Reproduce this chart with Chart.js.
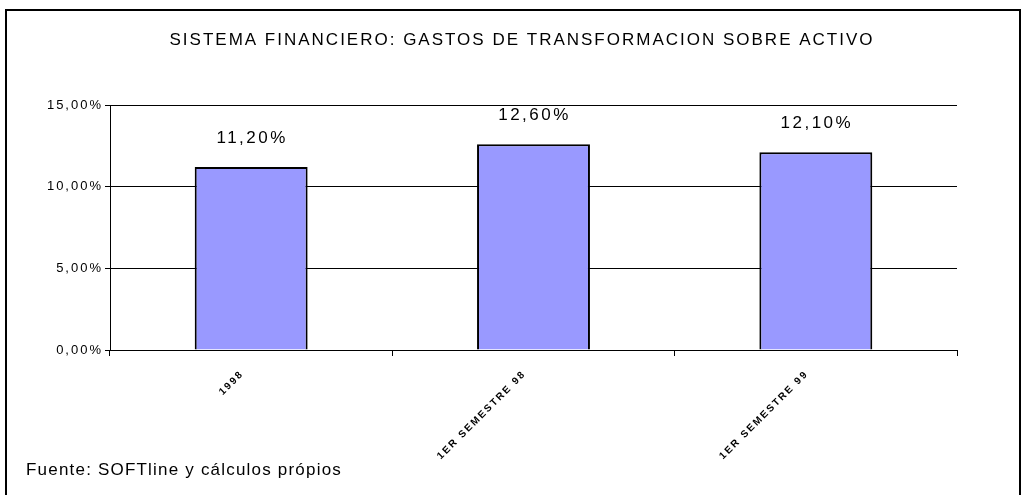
<!DOCTYPE html>
<html>
<head>
<meta charset="utf-8">
<script src="https://cdn.jsdelivr.net/npm/chart.js@4"></script>
<style>
  html, body { margin: 0; padding: 0; background: #fff; }
  #wrap { width: 1023px; height: 495px; }
</style>
</head>
<body>
<div id="wrap"><canvas id="gastos"></canvas></div>
<script>
// Sistema financiero: gastos de transformacion sobre activo

var categories = ['1998', '1ER SEMESTRE 98', '1ER SEMESTRE 99'];
var values = [11.2, 12.6, 12.1];
var yTicks = [0, 5, 10, 15];

var FONT = '"Liberation Sans", Arial, sans-serif';

function fmt(v) {
    return v.toFixed(2).replace('.', ',') + '%';
}

// frame, title, source note and value labels
var decor = {
    id: 'decor',
    beforeDraw: function (chart) {
        var c = chart.ctx;
        c.fillStyle = '#fff';
        c.fillRect(0, 0, chart.width, chart.height);
        // the old excel export spreads its letters out
        c.letterSpacing = '2px';
    },
    afterDraw: function (chart) {
        var c = chart.ctx;
        c.save();
        c.strokeStyle = '#000';
        c.lineWidth = 2;
        c.strokeRect(6, 10, 1014, 500);

        c.fillStyle = '#000';
        c.textAlign = 'center';
        c.textBaseline = 'middle';
        c.letterSpacing = '2px';
        c.font = '17px ' + FONT;
        c.fillText('SISTEMA FINANCIERO: GASTOS DE TRANSFORMACION SOBRE ACTIVO', 522, 40);

        c.textAlign = 'left';
        c.letterSpacing = '1.2px';
        c.font = '17px ' + FONT;
        c.fillText('Fuente: SOFTline y cálculos própios', 26, 470);

        // value labels above bars
        var meta = chart.getDatasetMeta(0);
        c.textAlign = 'center';
        c.letterSpacing = '2.5px';
        c.font = '17px ' + FONT;
        meta.data.forEach(function (bar, i) {
            c.fillText(fmt(values[i]), bar.x + 1, bar.y - 29);
        });
        c.restore();
    }
};

var ctx = document.getElementById('gastos').getContext('2d');
var chart = new Chart(ctx, {
    type: 'bar',
    data: {
        labels: categories,
        datasets: [{
            data: values,
            backgroundColor: '#9999ff',
            borderColor: '#000',
            borderWidth: 2,
            barPercentage: 0.4,
            categoryPercentage: 1
        }]
    },
    options: {
        responsive: true,
        maintainAspectRatio: false,
        animation: false,
        layout: { padding: { left: 0, right: 66, top: 105, bottom: 0 } },
        plugins: {
            legend: { display: false },
            title: { display: false },
            tooltip: { enabled: false }
        },
        scales: {
            x: {
                offset: true,
                grid: {
                    offset: true,
                    drawOnChartArea: false,
                    color: '#000',
                    tickLength: 6
                },
                border: { color: '#000', width: 1 },
                ticks: {
                    minRotation: 45,
                    maxRotation: 45,
                    color: '#000',
                    padding: 12,
                    labelOffset: -9,
                    font: { family: FONT, size: 10, weight: 'bold' }
                },
                afterFit: function (s) { s.height = 145; }
            },
            y: {
                min: 0,
                max: 15,
                afterBuildTicks: function (s) {
                    s.ticks = yTicks.map(function (v) { return { value: v }; });
                },
                grid: {
                    color: '#000',
                    lineWidth: 1,
                    tickLength: 5
                },
                border: { color: '#000', width: 1 },
                ticks: {
                    color: '#000',
                    padding: 2,
                    font: { family: FONT, size: 13 },
                    callback: function (v) { return fmt(v); }
                },
                afterFit: function (s) { s.width = 110; }
            }
        }
    },
    plugins: [decor]
});
</script>
</body>
</html>
